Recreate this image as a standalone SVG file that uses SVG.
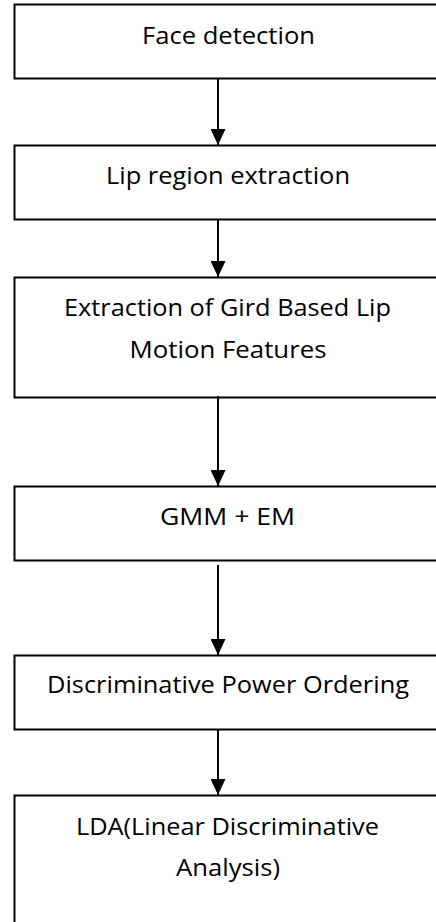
<svg xmlns="http://www.w3.org/2000/svg" width="436" height="922" viewBox="0 0 436 922">
<defs>
<style>
.box{fill:#fff;stroke:#000;stroke-width:2}
.t{font-family:"Open Sans","Noto Sans","Liberation Sans",sans-serif;font-size:24px;fill:#000;text-anchor:middle}
.c{stroke:#000;stroke-width:2;fill:none}
</style>
<marker id="ah" markerUnits="userSpaceOnUse" markerWidth="16" markerHeight="15" refX="16" refY="7.5" orient="auto" viewBox="0 0 16 15">
<path d="M0,0 L16,7.5 L0,15 Z" fill="#000"/>
</marker>
</defs>
<rect width="436" height="922" fill="#fff"/>
<g id="n1"><rect class="box" x="14.5" y="4.5" width="430" height="74"/><text class="t" x="228.5" y="44" textLength="173" lengthAdjust="spacingAndGlyphs">Face detection</text></g>
<g id="n2"><rect class="box" x="14.5" y="145.5" width="430" height="74"/><text class="t" x="228" y="184" textLength="244" lengthAdjust="spacingAndGlyphs">Lip region extraction</text></g>
<g id="n3"><rect class="box" x="14.5" y="277.5" width="430" height="120"/><text class="t" x="227.5" y="316" textLength="327" lengthAdjust="spacingAndGlyphs">Extraction of Gird Based Lip</text><text class="t" x="228" y="357.5" textLength="197" lengthAdjust="spacingAndGlyphs">Motion Features</text></g>
<g id="n4"><rect class="box" x="14.5" y="486.5" width="430" height="74"/><text class="t" x="227.5" y="525" textLength="135" lengthAdjust="spacingAndGlyphs">GMM + EM</text></g>
<g id="n5"><rect class="box" x="14.5" y="655.5" width="430" height="74"/><text class="t" x="228" y="693" textLength="362" lengthAdjust="spacingAndGlyphs">Discriminative Power Ordering</text></g>
<g id="n6"><rect class="box" x="14.5" y="795.5" width="430" height="140"/><text class="t" x="227.5" y="835" textLength="303" lengthAdjust="spacingAndGlyphs">LDA(Linear Discriminative</text><text class="t" x="228" y="876" textLength="104" lengthAdjust="spacingAndGlyphs">Analysis)</text></g>
<g id="connectors">
<line class="c" x1="218" y1="78" x2="218" y2="145" marker-end="url(#ah)"/>
<line class="c" x1="218" y1="219" x2="218" y2="277" marker-end="url(#ah)"/>
<line class="c" x1="218" y1="396" x2="218" y2="486" marker-end="url(#ah)"/>
<line class="c" x1="218" y1="565" x2="218" y2="655" marker-end="url(#ah)"/>
<line class="c" x1="218" y1="729" x2="218" y2="795" marker-end="url(#ah)"/>
</g>
</svg>
